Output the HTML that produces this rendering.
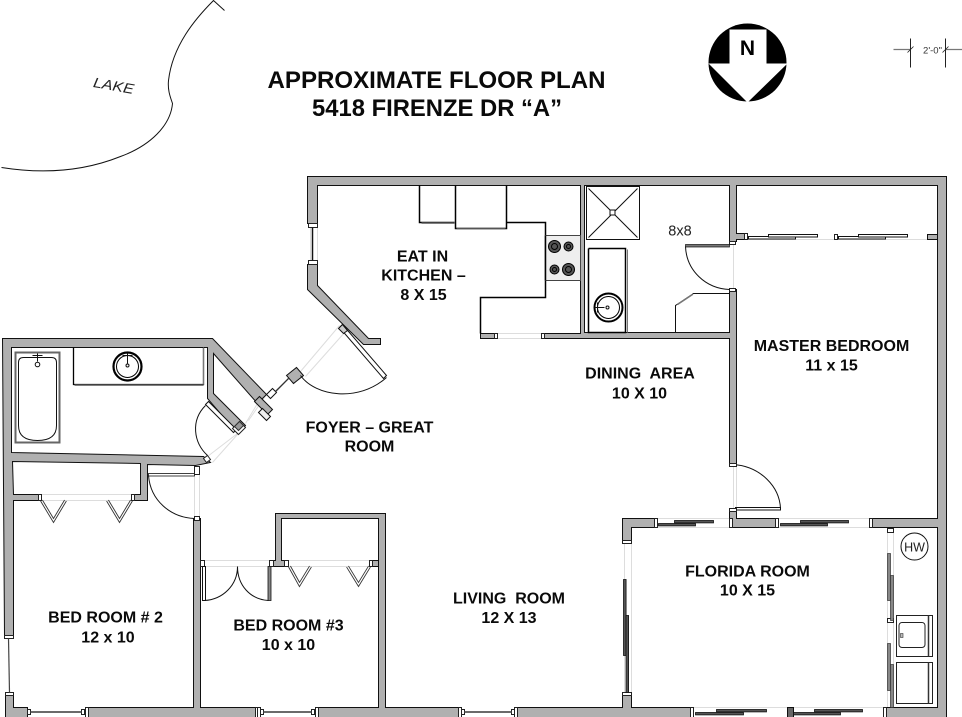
<!DOCTYPE html>
<html>
<head>
<meta charset="utf-8">
<style>
html,body{margin:0;padding:0;background:#fff;width:962px;height:717px;overflow:hidden}
svg{display:block}
text{font-family:"Liberation Sans",sans-serif;fill:#0a0a0a}
.l{font-weight:bold;font-size:16px;text-anchor:middle}
.w{fill:#b0b0b0;stroke:#111;stroke-width:1}
.t{fill:none;stroke:#111;stroke-width:1}
.m{fill:none;stroke:#000;stroke-width:1.5}
.g{fill:none;stroke:#ddd;stroke-width:1}
.j{fill:#fff;stroke:#222;stroke-width:1}
.p{fill:#555;stroke:#111;stroke-width:.8}
.q{fill:#fff;stroke:#111;stroke-width:1}
</style>
</head>
<body>
<svg width="962" height="717" viewBox="-0.5 -0.5 962 717" xmlns="http://www.w3.org/2000/svg">
<rect x="-1" y="-1" width="964" height="719" fill="#fff"/>

<!-- lake -->
<path class="t" d="M224,10 L213,0 C195,18 172,45 168,80 C167,90 170,97 172,103 C170,125 150,145 120,156 C85,170 45,174 1,167"/>
<text x="113" y="90" transform="rotate(10 113 86)" text-anchor="middle" font-size="14" font-style="italic" textLength="41" lengthAdjust="spacingAndGlyphs" style="fill:#222">LAKE</text>

<!-- titles -->
<text x="436" y="87.5" text-anchor="middle" font-weight="bold" font-size="23.7" textLength="338" lengthAdjust="spacingAndGlyphs">APPROXIMATE FLOOR PLAN</text>
<text x="436.5" y="115.5" text-anchor="middle" font-weight="bold" font-size="23.7" textLength="250" lengthAdjust="spacingAndGlyphs">5418 FIRENZE DR “A”</text>

<!-- north -->
<circle cx="747" cy="62" r="39" fill="#000"/>
<polygon fill="#fff" points="729,29 766,29 766,63 787,63 747,102 708,63 729,63"/>
<text x="747" y="54.5" text-anchor="middle" font-weight="bold" font-size="21" style="fill:#000">N</text>

<!-- scale -->
<path d="M893,49H910M945,49H962" stroke="#777" stroke-width="1.2" fill="none"/>
<path d="M910,38V67M945,38V67" stroke="#222" stroke-width="1" fill="none"/>
<path d="M907,52L913,46M942,52L948,46" stroke="#222" stroke-width=".8" fill="none"/>
<text x="932" y="53" text-anchor="middle" font-size="9.5" style="fill:#333">2'-0"</text>

<!-- light opening lines -->
<g class="g">
<path d="M317,223V264M310,223V264M496,338H541M496,333H541"/>
<path d="M747,239H928M733,241V289M733,464V510M736,464V510"/>
<path d="M657,518H729M657,527H729M778,518H869M778,527H869"/>
<path d="M624,543V692M631,543V692M693,707H883M693,717H883M887,528V707M893,528V707"/>
<path d="M200,560H281M200,566H270M288,560H369M288,566H369"/>
<path d="M40,494H132M40,500H132M194,474V518M199,474V518"/>
<path d="M237,433L207,456M245,425L212,462M339,325L300,371M345,331L305,376M288,378L275,392M257,403L245,423M266,394L248,420"/>
</g>

<!-- main walls -->
<polygon class="w" points="307,223 307,176 946,176 946,717 883,717 883,707 937,707 937,527 869,527 869,518 937,518 937,185 736,185 736,233 747,233 747,239 736,239 736,241 729,241 729,185 584,185 584,332 729,332 729,289 736,289 736,464 729,464 729,338 541,338 541,333 580,333 580,185 317,185 317,223"/>
<polygon class="w" points="307,264 307,289 363,344 380,344 380,338 368,338 317,285 317,264"/>
<polygon class="w" points="480,333 496,333 496,338 480,338"/>
<polygon class="w" points="2,338 212,338 266,394 257,403 213,353 213,393 245,425 237,433 207,398 207,347 11,347 11,452 203,456 210,462 195,465 147,464 147,500 132,500 132,494 140,494 140,463 12,461 13,494 40,494 40,500 13,500 13,635 4,635"/>
<polygon class="w" points="5,695 13,695 13,707 27,707 27,717 5,717"/>
<polygon class="w" points="85,707 193,707 193,518 200,518 200,707 257,707 257,717 85,717"/>
<polygon class="w" points="317,707 378,707 378,518 281,518 281,560 288,560 288,566 269,566 269,560 275,560 275,513 385,513 385,707 458,707 458,717 317,717"/>
<polygon class="w" points="369,560 378,560 378,566 369,566"/>
<polygon class="w" points="517,707 622,707 622,692 631,692 631,707 692,707 692,717 517,717"/>
<polygon class="w" points="622,518 657,518 657,527 631,527 631,543 622,543"/>
<polygon class="w" points="729,508 736,508 736,518 778,518 778,527 729,527"/>

<!-- stubs / jambs -->
<rect class="j" x="308" y="223" width="9" height="4"/><rect class="j" x="308" y="260" width="9" height="4"/>
<path d="M312,227V260" stroke="#111" stroke-width="1.5"/>
<rect class="j" x="494" y="333" width="3" height="5"/><rect class="j" x="541" y="333" width="3" height="5"/>
<rect class="j" x="744" y="233" width="3" height="6"/>
<rect class="j" x="834" y="234" width="3" height="5"/>
<rect class="w" x="927" y="234" width="10" height="5"/>
<rect class="j" x="729" y="241" width="6" height="3"/><rect class="j" x="729" y="288" width="6" height="3"/>

<!-- master closet sliders -->
<rect class="q" x="748" y="236" width="47" height="2.5"/><rect class="q" x="768" y="234" width="49" height="2.5"/>
<rect class="q" x="838" y="236" width="47" height="2.5"/><rect class="q" x="858" y="234" width="49" height="2.5"/>

<!-- bath 2 fixtures -->
<rect class="q" x="586" y="186" width="53" height="53"/>
<path class="t" d="M588,188L637,237M637,188L588,237" stroke-width=".8"/>
<rect class="q" x="609.5" y="209.5" width="5" height="5"/>
<path d="M627,249V332" stroke="#777" stroke-width="1"/>
<path class="m" d="M588,248V332H625V248H588"/>
<circle cx="608" cy="307" r="14" fill="#fff" stroke="#000" stroke-width="2"/>
<circle cx="608" cy="307" r="11" fill="#fff" stroke="#000" stroke-width="1"/>
<path class="t" d="M594,307H604M597,302V312"/><circle cx="607" cy="307" r="1.5" class="t"/>
<text x="679.5" y="235" text-anchor="middle" font-size="14.5" style="fill:#222">8x8</text>

<!-- bath 2 door -->
<rect x="685" y="244" width="44" height="2.5" fill="#777" stroke="#111" stroke-width=".7"/>
<path class="t" d="M685,246C686,270 705,288 729,289"/>
<!-- linen closet -->
<path class="t" d="M675,332V305L693,293H729"/><path d="M677,304L692,294" stroke="#777" stroke-width="1.5"/>

<!-- kitchen -->
<path class="m" d="M419,185V222H454M455,185V228H506V185M506,222H545V297H480V333"/>
<path d="M421,222.5H454M456,228H505" stroke="#555" stroke-width="1.4"/>
<path class="t" d="M580,333V280"/>
<rect x="545" y="235" width="35" height="45" fill="#eee" stroke="#444"/>
<path d="M545,235V280" stroke="#000" stroke-width="1.5"/>
<g fill="#555" stroke="#000">
<circle cx="554" cy="246" r="6"/><circle cx="554" cy="246" r="3"/><circle cx="568" cy="246" r="4.5"/><circle cx="568" cy="246" r="2"/>
<circle cx="554" cy="269" r="4.5"/><circle cx="554" cy="269" r="2"/><circle cx="568" cy="269" r="6"/><circle cx="568" cy="269" r="3"/>
</g>

<!-- tub & vanity -->
<rect x="15" y="352" width="44" height="90" fill="#fff" stroke="#666" stroke-width="2"/>
<path class="t" d="M18,362Q18,357 23,357H51Q56,357 56,362V425Q56,440 37,440Q18,440 18,425Z"/>
<circle cx="37" cy="364" r="2.3" class="t"/><path class="t" d="M37,361V353M32,355H42"/>
<path d="M73,347V384H203V347" fill="none" stroke="#000" stroke-width="1.3"/>
<path d="M74,384.5H203" stroke="#555" stroke-width="1.4"/>
<circle cx="127" cy="366" r="14" fill="#fff" stroke="#000" stroke-width="2.2"/>
<circle cx="127" cy="366" r="11" fill="#fff" stroke="#000" stroke-width="1"/>
<circle cx="127" cy="365" r="1.5" class="t"/><path class="t" d="M127,363V353M122,355H132"/>
<path d="M203,347V384" stroke="#777" stroke-width="1"/>

<!-- bath door -->
<polygon points="205,404 208,401 236,429 233,432" fill="#fff" stroke="#111"/>
<path class="t" d="M205,405C190,420 193,442 207,455"/>
<polygon points="232,428 239,421 245,427 238,434" class="j"/>
<polygon points="234,426 239,421 243,425 238,430" fill="#999" stroke="#333"/>
<polygon points="207,455 210,459 206,462 203,458" class="j"/>

<!-- front door group -->
<polygon points="254,401 259,396 272,409 267,414" fill="#b0b0b0" stroke="#111"/>
<polygon points="258,412 262,408 270,416 266,420" fill="#eee" stroke="#111"/>
<polygon points="266,394 272,388 276,392 270,398" fill="#fff" stroke="#111"/>
<path d="M275,391L288,378" stroke="#333" stroke-width="1.3"/>
<polygon points="286,375 296,367 303,375 293,383" fill="#b0b0b0" stroke="#111"/>
<path class="t" d="M300,375C315,396 358,402 386,377"/>
<polygon points="339,327 342,324 386,375 383,378" fill="#fff" stroke="#111"/>
<polygon points="338,328 342,324 347,330 343,333" fill="#ccc" stroke="#111"/>

<!-- bedroom 2 closet bifolds -->
<path d="M41,500L53,520L65,500M107,500L119,520L131,500" fill="none" stroke="#333" stroke-width="3"/>
<path d="M41,500L53,520L65,500M107,500L119,520L131,500" fill="none" stroke="#fff" stroke-width="1.2"/>
<rect class="j" x="38" y="494" width="3" height="6"/><rect class="j" x="131" y="494" width="3" height="6"/>

<!-- bedroom 2 door -->
<rect x="148" y="473" width="46" height="2.5" fill="#fff" stroke="#111" stroke-width=".8"/>
<rect class="j" x="194" y="466" width="5" height="8"/>
<path class="t" d="M148,475C150,500 170,517 194,518"/>
<rect class="j" x="194" y="516" width="5" height="4"/>

<!-- bedroom 3 doors -->
<rect class="j" x="200" y="560" width="4" height="6"/>
<rect x="202" y="566" width="3" height="34" fill="#fff" stroke="#111"/>
<rect x="267.5" y="566" width="3" height="34" fill="#888" stroke="#111" stroke-width=".8"/>
<path class="t" d="M204,600C222,599 237,585 237,566C237,585 250,599 268,600"/>
<rect class="j" x="269" y="560" width="4" height="6"/>
<rect class="j" x="284" y="560" width="4" height="6"/>
<!-- bedroom 3 bifolds -->
<path d="M289,566L299,584L310,566M347,566L358,584L369,566" fill="none" stroke="#333" stroke-width="3"/>
<path d="M289,566L299,584L310,566M347,566L358,584L369,566" fill="none" stroke="#fff" stroke-width="1.2"/>
<rect class="j" x="369" y="560" width="3" height="6"/>

<!-- master entry door -->
<path class="t" d="M733,464C760,466 779,486 780,508"/>
<rect class="j" x="729" y="463" width="7" height="3"/>
<rect class="q" x="735" y="507" width="45" height="2.5"/>
<rect class="j" x="729" y="508" width="7" height="3"/>
<rect class="j" x="729" y="518" width="3" height="9"/>

<!-- windows bottom/left -->
<g>
<rect class="j" x="85" y="707" width="3" height="10"/>
<rect class="j" x="255" y="707" width="2" height="10"/><rect class="j" x="257" y="707" width="3" height="10"/>
<rect class="j" x="315" y="707" width="3" height="10"/>
<rect class="j" x="27" y="709" width="3" height="5"/><rect class="j" x="81" y="709" width="3" height="5"/>
<rect class="j" x="260" y="709" width="3" height="5"/><rect class="j" x="311" y="709" width="3" height="5"/>
<rect class="j" x="458" y="707" width="3" height="10"/><rect class="j" x="514" y="707" width="3" height="10"/>
<rect class="j" x="461" y="709" width="3" height="5"/><rect class="j" x="511" y="709" width="3" height="5"/>
<path d="M30,711.5H81M263,711.5H311M464,711.5H511" stroke="#555" stroke-width="1.8"/>
<rect class="j" x="4" y="635" width="9" height="3"/><rect class="j" x="5" y="692" width="8" height="3"/>
<path d="M8,638L9,692" stroke="#444" stroke-width="1.2"/>
</g>

<!-- florida room sliders -->
<g>
<rect class="j" x="654" y="518" width="3" height="9"/>
<rect class="j" x="775" y="518" width="3" height="9"/>
<rect class="j" x="869" y="518" width="3" height="9"/>
<rect class="j" x="622" y="540" width="9" height="3"/>
<rect class="j" x="622" y="692" width="9" height="3"/>
<rect class="j" x="690" y="707" width="3" height="10"/>
<rect x="787" y="707" width="6" height="10" fill="#666" stroke="#111"/>
<rect class="j" x="883" y="707" width="3" height="10"/>
<rect class="p" x="658" y="523" width="37" height="2.4"/><rect class="p" x="674" y="520" width="39" height="2.4"/>
<rect class="p" x="780" y="523" width="47" height="2.4"/><rect class="p" x="800" y="520" width="48" height="2.4"/>
<rect class="p" x="695" y="712" width="48" height="2.4"/><rect class="p" x="716" y="709" width="50" height="2.4"/>
<rect class="p" x="793" y="712" width="47" height="2.4"/><rect class="p" x="814" y="709" width="48" height="2.4"/>
<rect class="p" x="623" y="579" width="2.6" height="76"/><rect class="p" x="625.5" y="615" width="2.6" height="77"/>
<rect class="j" x="887" y="528" width="6" height="4"/><rect class="j" x="887" y="618" width="6" height="4"/>
<rect x="887" y="553" width="3" height="47" fill="#888" stroke="#333" stroke-width=".7"/>
<rect x="890" y="575" width="3" height="45" fill="#888" stroke="#333" stroke-width=".7"/>
<rect x="887" y="643" width="3" height="47" fill="#888" stroke="#333" stroke-width=".7"/>
<rect x="890" y="664" width="3" height="43" fill="#888" stroke="#333" stroke-width=".7"/>
</g>

<!-- HW -->
<circle cx="914" cy="546" r="13.5" fill="#fff" stroke="#111"/>
<text x="914" y="551" text-anchor="middle" font-size="12.5" style="fill:#222">HW</text>

<!-- washer / dryer -->
<rect x="896" y="615" width="36" height="41" fill="#fff" stroke="#222"/>
<rect x="898.5" y="622" width="26" height="25" rx="3" fill="#fff" stroke="#222"/>
<rect x="900" y="633" width="2.5" height="4" fill="#bbb" stroke="#333" stroke-width=".6"/>
<rect x="896" y="662" width="36" height="41" fill="#fff" stroke="#222"/>
<path d="M928,615V656M928,662V703" stroke="#333" stroke-width="1.5"/>

<!-- room labels -->
<text class="l" x="422" y="261">EAT IN</text>
<text class="l" x="423" y="280">KITCHEN –</text>
<text class="l" x="423" y="299.5">8 X 15</text>
<text class="l" x="639.5" y="378" xml:space="preserve">DINING  AREA</text>
<text class="l" x="639" y="398">10 X 10</text>
<text class="l" x="831" y="350.5">MASTER BEDROOM</text>
<text class="l" x="831" y="370">11 x 15</text>
<text class="l" x="369" y="432">FOYER – GREAT</text>
<text class="l" x="369" y="451">ROOM</text>
<text class="l" x="105" y="622">BED ROOM # 2</text>
<text class="l" x="107.5" y="642">12 x 10</text>
<text class="l" x="288" y="630">BED ROOM #3</text>
<text class="l" x="288" y="649.5">10 x 10</text>
<text class="l" x="508.5" y="603" xml:space="preserve">LIVING  ROOM</text>
<text class="l" x="508.5" y="622.5">12 X 13</text>
<text class="l" x="747" y="576">FLORIDA ROOM</text>
<text class="l" x="747" y="595">10 X 15</text>
</svg>
</body>
</html>
